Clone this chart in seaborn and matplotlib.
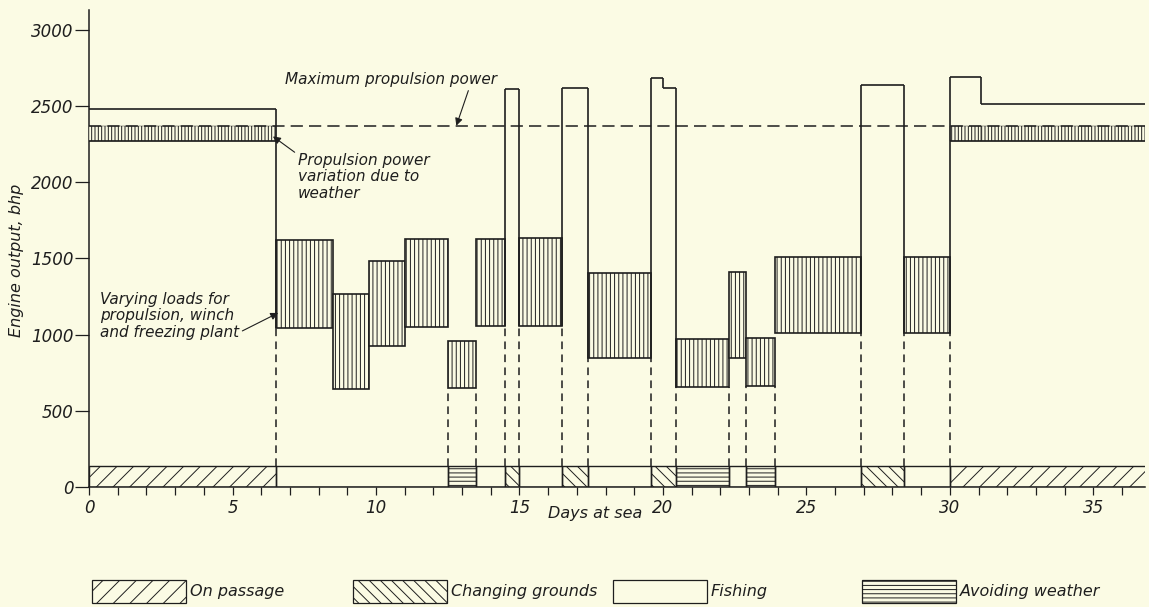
import itertools
import matplotlib
matplotlib.use("Agg")
import matplotlib.pyplot as plt
from matplotlib.patches import Rectangle
import seaborn as sns

# operating periods of the trip (days at sea)
seg_start = [0, 6.5, 8.5, 9.75, 11.0, 12.5, 13.5, 14.5, 15.0, 16.5, 17.4,
             19.6, 20.0, 20.45, 22.3, 22.9, 23.9, 26.9, 28.4, 30.0, 31.1]
seg_end = seg_start[1:] + [37.0]
activity = ["passage", "fishing", "fishing", "fishing", "fishing", "weather",
            "fishing", "changing", "fishing", "changing", "fishing",
            "changing", "changing", "weather", "fishing", "weather",
            "fishing", "changing", "fishing", "passage", "passage"]
# varying load range (None = steady full-power load)
load_low = [None, 1040, 640, 925, 1050, 650, 1055, None, 1055, None, 843,
            None, None, 655, 846, 663, 1008, None, 1010, None, None]
load_high = [2480, 1620, 1265, 1485, 1625, 955, 1627, 2612, 1632, 2618, 1404,
             2683, 2618, 970, 1410, 978, 1510, 2638, 1510, 2690, 2510]

max_power = 2370        # maximum propulsion power
weather_low = 2270      # propulsion power variation due to weather
band_height = 135       # activity strip along the bottom

activity_names = {"passage": "On passage", "changing": "Changing grounds",
                  "fishing": "Fishing", "weather": "Avoiding weather"}
hatches = {"passage": "//", "changing": "\\\\\\", "fishing": "",
           "weather": "----"}

bg = "#fbfbe4"
ink = "#1e1e1e"

sns.set_theme(style="ticks", rc={
    "figure.facecolor": bg, "axes.facecolor": bg, "savefig.facecolor": bg,
    "axes.edgecolor": ink, "xtick.color": ink, "ytick.color": ink,
    "text.color": ink, "axes.labelcolor": ink, "hatch.color": ink,
    "hatch.linewidth": 0.7, "axes.linewidth": 1.1,
})
plt.rcParams["font.family"] = ["DejaVu Sans"]
plt.rcParams["font.style"] = "italic"

fig = plt.figure(figsize=(11.49, 6.07), dpi=100)
ax = fig.add_axes([0.0775, 0.1977, 0.919, 0.786])
lw = 1.2

# maximum propulsion power
ax.axhline(max_power, color=ink, lw=1.1, ls=(0, (8, 4)), zorder=5)

n = len(seg_start)
for j in range(n):
    w = seg_end[j] - seg_start[j]
    if load_low[j] is None:
        ax.hlines(load_high[j], seg_start[j], seg_end[j], color=ink, lw=lw)
        if activity[j] == "passage":
            ax.bar(seg_start[j], max_power - weather_low, bottom=weather_low,
                   width=w, align="edge", facecolor=bg, hatch="|||||",
                   edgecolor=ink, linewidth=0.3, zorder=3)
            ax.hlines(weather_low, seg_start[j], seg_end[j], color=ink,
                      lw=lw, zorder=4)
    else:
        ax.bar(seg_start[j], load_high[j] - load_low[j], bottom=load_low[j],
               width=w, align="edge", facecolor=bg, hatch="||||",
               edgecolor=ink, linewidth=lw, zorder=3)

# vertical boundaries
for i in range(n - 1):
    b = seg_end[i]
    sides = [i, i + 1]
    tall = [j for j in sides if load_low[j] is None]
    blocks = [j for j in sides if load_low[j] is not None]
    if tall:
        top = max(load_high[j] for j in tall)
        bot = (min(load_low[j] for j in blocks) if blocks
               else min(load_high[j] for j in tall))
        ax.vlines(b, bot, top, color=ink, lw=lw, zorder=4)
    if activity[i] != activity[i + 1]:
        upper = (min(load_low[j] for j in blocks) if blocks
                 else min(load_high[j] for j in tall))
        ax.vlines(b, band_height, upper, color=ink, lw=1.1,
                  linestyles=[(0, (5, 3.5))], zorder=2)

# activity strip
for act, grp in itertools.groupby(range(n), key=lambda k: activity[k]):
    idx = list(grp)
    x0, x1 = seg_start[idx[0]], seg_end[idx[-1]]
    ax.bar(x0, band_height, bottom=0, width=x1 - x0, align="edge",
           fill=False, hatch=hatches[act], edgecolor=ink, linewidth=1.0)

ax.set_xlim(0, 36.8)
ax.set_ylim(0, 3130)
ax.set_xticks(range(0, 36, 5))
ax.set_xticks(range(0, 37), minor=True)
ax.set_yticks(range(0, 3001, 500))
ax.tick_params(axis="x", which="both", length=6, width=0.9, pad=3,
               labelsize=12)
ax.tick_params(axis="y", length=10, width=0.9, pad=1, labelsize=12)
sns.despine(ax=ax)

ax.set_xlabel("Days at sea", fontsize=11.5)
ax.xaxis.set_label_coords(0.479, -0.04)
ax.set_ylabel("Engine output, bhp", fontsize=11.5)
ax.yaxis.set_label_coords(-0.062, 0.476)

arrow = dict(arrowstyle="-|>", color=ink, lw=0.8, mutation_scale=11,
             shrinkA=0, shrinkB=0)
ax.annotate("Maximum propulsion power", xy=(12.8, max_power),
            xytext=(6.83, 2671), ha="left", va="center", fontsize=11,
            arrowprops=dict(arrow, relpos=(0.87, 0.0)))
ax.annotate("Propulsion power\nvariation due to\nweather", xy=(6.41, 2300),
            xytext=(7.28, 2034), ha="left", va="center", fontsize=11,
            linespacing=1.1, arrowprops=dict(arrow, relpos=(0.02, 0.93)))
ax.annotate("Varying loads for\npropulsion, winch\nand freezing plant",
            xy=(6.59, 1142), xytext=(0.38, 1122), ha="left", va="center",
            fontsize=11, linespacing=1.1,
            arrowprops=dict(arrow, relpos=(1.0, 0.15)))

# legend strip under the chart
legend_x = [92, 353, 613, 862]
for lx, act in zip(legend_x, ["passage", "changing", "fishing", "weather"]):
    fig.add_artist(Rectangle((lx / 1149, 4 / 607), 94 / 1149, 23 / 607,
                             transform=fig.transFigure, fill=False,
                             hatch=hatches[act], edgecolor=ink, lw=0.9))
    fig.text((lx + 98) / 1149, 15.5 / 607, activity_names[act],
             fontsize=11.5, va="center", ha="left")

fig.savefig("out.png", dpi=100)
